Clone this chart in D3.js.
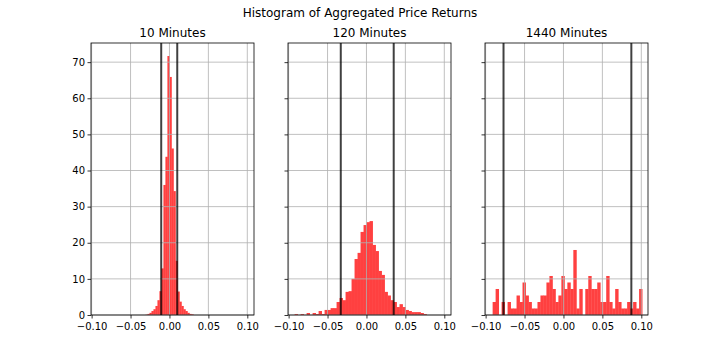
<!DOCTYPE html>
<html>
<head>
<meta charset="utf-8">
<script src="https://cdn.jsdelivr.net/npm/d3@7"></script>
<style>
	body { margin: 0; background: #fff; }
	svg text { font-family: "DejaVu Sans", sans-serif; fill: #000; }
</style>
</head>
<body>
<div id="container"></div>
<script>
// panel titles
let panelTitles = ["10 Minutes", "120 Minutes", "1440 Minutes"];

// histogram bins (density) - first bin edge and bin width for each panel
let binStarts = [-0.0308, -0.0923, -0.0910];
let binWidths = [0.00256, 0.00385, 0.00384];

let density10 = [0.1, 0.3, 0.6, 1.1, 1.6, 2.5, 4.1, 6.6, 12.9, 36, 43.8, 71.7, 65.9, 46.1,
	34.3, 15, 6.5, 3.7, 2.5, 1.6, 1.1, 0.6, 0.3, 0.2];
let density120 = [0.28, 0, 0.28, 0, 0.55, 0, 0.55, 0.28, 1.1, 0.28, 1.4, 1.4, 1.9, 1.9, 3.6,
	4.7, 4.1, 6.4, 6.6, 10, 15.5, 17.2, 23, 24.9, 25.7, 26, 19.4, 17.7, 12.2, 11.1, 6.4, 5.4,
	4.1, 3.6, 2.2, 3.0, 2.2, 1.4, 1.1, 0.8, 0.8, 0.8, 0.55, 0.28];
let density1440 = [3.6, 7.2, 0, 3.6, 0, 3.6, 1.8, 1.8, 5.4, 3.6, 9, 5.4, 3.6, 1.8, 1.8, 3.6,
	5.4, 5.4, 9, 10.8, 7.2, 3.6, 5.4, 10.8, 7.2, 9, 7.2, 18, 1.8, 7.2, 0, 7.2, 10.8, 7.2, 7.2,
	9, 3.6, 3.6, 10.8, 3.6, 1.8, 7.2, 3.6, 1.8, 1.8, 3.6, 1.8, 3.6, 1.8, 7.2];
let densities = [density10, density120, density1440];

// vertical marker lines (lower / upper) per panel
let lowerLines = [-0.0106, -0.0330, -0.0770];
let upperLines = [0.0100, 0.0350, 0.0872];

let xTicks = [-0.10, -0.05, 0.00, 0.05, 0.10];
let yTicks = [0, 10, 20, 30, 40, 50, 60, 70];

let totalW = 720, totalH = 360;
let margin = {top: 43, left: 91},
	panelW = 163,
	panelH = 272,
	gap = 34;

var xScale = d3.scaleLinear().domain([-0.1008, 0.1086]).range([0, panelW]);
var yScale = d3.scaleLinear().domain([0, 75.3]).range([panelH, 0]);

let svg = d3.select("div#container").append("svg")
	.attr("width", totalW)
	.attr("height", totalH);

svg.append("text")
	.attr("x", totalW / 2)
	.attr("y", 17)
	.attr("text-anchor", "middle")
	.style("font-size", "12px")
	.text("Histogram of Aggregated Price Returns");

function minusFmt(d){
	return d3.format(".2f")(d).replace("-", "\u2212");
}

function drawPanel(i){
	let g = svg.append("g")
		.attr("transform", "translate(" + (margin.left + i * (panelW + gap)) + "," + margin.top + ")");

	// bars (opaque red = red at 0.75 alpha on white; tiny overlap hides seams)
	let bins = densities[i].map(function(v, k){
		return {x0: binStarts[i] + k * binWidths[i], x1: binStarts[i] + (k + 1) * binWidths[i], v: v};
	});
	g.selectAll("rect.bar").data(bins.filter(d => d.v > 0)).enter().append("rect")
		.attr("class", "bar")
		.attr("x", d => xScale(d.x0))
		.attr("width", d => xScale(d.x1) - xScale(d.x0) + 0.4)
		.attr("y", d => yScale(d.v))
		.attr("height", d => yScale(0) - yScale(d.v))
		.attr("fill", "#ff4040");

	// grid (drawn above the bars like matplotlib)
	xTicks.forEach(function(t){
		g.append("line")
			.attr("x1", xScale(t)).attr("x2", xScale(t))
			.attr("y1", 0).attr("y2", panelH)
			.attr("stroke", "#b0b0b0").attr("stroke-width", 0.8);
	});
	yTicks.forEach(function(t){
		g.append("line")
			.attr("x1", 0).attr("x2", panelW)
			.attr("y1", yScale(t)).attr("y2", yScale(t))
			.attr("stroke", "#b0b0b0").attr("stroke-width", 0.8);
	});

	// marker lines
	[lowerLines[i], upperLines[i]].forEach(function(v){
		g.append("line")
			.attr("x1", xScale(v)).attr("x2", xScale(v))
			.attr("y1", 0).attr("y2", panelH)
			.attr("stroke", "black").attr("stroke-opacity", 0.75).attr("stroke-width", 2);
	});

	// axes
	let xAxis = g.append("g")
		.attr("transform", "translate(0," + panelH + ")")
		.call(d3.axisBottom(xScale).tickValues(xTicks).tickFormat(minusFmt).tickSizeOuter(0).tickSize(3.5));
	let yAxis = g.append("g")
		.call(d3.axisLeft(yScale).tickValues(yTicks).tickSizeOuter(0).tickSize(3.5)
			.tickFormat(i === 0 ? d3.format("d") : ""));
	[xAxis, yAxis].forEach(function(a){
		a.select(".domain").remove();
		a.selectAll("line").attr("stroke", "black").attr("stroke-width", 0.8);
		a.selectAll("text").style("font-size", "10px").attr("fill", "#000");
	});
	xAxis.selectAll("text").attr("dy", "0.95em").attr("y", 5);
	yAxis.selectAll("text").attr("x", -6);

	// frame
	g.append("rect")
		.attr("x", 0).attr("y", 0)
		.attr("width", panelW).attr("height", panelH)
		.attr("fill", "none").attr("stroke", "black").attr("stroke-width", 0.8);

	g.append("text")
		.attr("x", panelW / 2)
		.attr("y", -6)
		.attr("text-anchor", "middle")
		.style("font-size", "12px")
		.text(panelTitles[i]);
}

for (let i = 0; i < 3; i++) {
	drawPanel(i);
}
</script>
</body>
</html>
